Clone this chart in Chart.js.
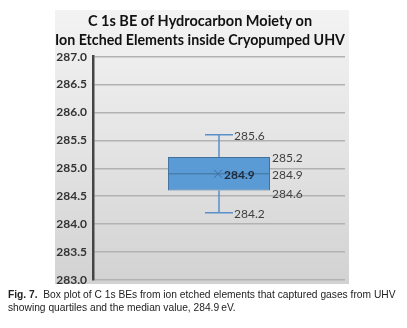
<!DOCTYPE html>
<html>
<head>
<meta charset="utf-8">
<script src="https://cdn.jsdelivr.net/npm/chart.js@4"></script>
<style>
  html, body { margin: 0; padding: 0; background: #fff; }
  body { width: 407px; height: 328px; position: relative; overflow: hidden; }
  #panel {
    position: absolute; left: 55px; top: 10px; width: 294px; height: 274px;
    background: linear-gradient(to bottom, #f3f3f3 0%, #e4e4e4 50%, #d2d2d2 100%);
  }
  #wrap { position: absolute; left: 55px; top: 10px; width: 294px; height: 283px; }
  #caption {
    position: absolute; left: 8px; top: 288px; width: 500px;
    font-family: "Liberation Sans", Arial, sans-serif; font-size: 10.5px; line-height: 13px;
    color: #222; transform-origin: 0 0; transform: scaleX(0.975); white-space: nowrap;
  }
</style>
</head>
<body>
<div id="panel"></div>
<div id="wrap"><canvas id="boxChart"></canvas></div>
<div id="caption"><b>Fig. 7.</b>&nbsp; Box plot of C 1s BEs from ion etched elements that captured gases from UHV<br>showing quartiles and the median value, 284.9&#8201;eV.</div>
<script>
// box plot data (C 1s BE, eV)
const categories = [''];
const minVals = [284.2];
const q1Vals = [284.6];
const medianVals = [284.9];
const q3Vals = [285.2];
const maxVals = [285.6];
const meanVals = [284.9];

const yMin = 283.0;
const yMax = 287.0;
const yStep = 0.5;

const boxBlue = '#5b9bd5';
const boxEdge = '#41719c';

// whiskers, median, mean marker and value labels
const boxExtras = {
    id: 'boxExtras',
    afterDatasetsDraw(chart) {
        const c = chart.ctx;
        const y = chart.scales.y;
        const meta = chart.getDatasetMeta(0);
        meta.data.forEach((bar, i) => {
            const cx = bar.x;
            const half = bar.width / 2;
            const yMaxP = y.getPixelForValue(maxVals[i]);
            const yMinP = y.getPixelForValue(minVals[i]);
            const yQ1 = y.getPixelForValue(q1Vals[i]);
            const yQ3 = y.getPixelForValue(q3Vals[i]);
            const yMed = y.getPixelForValue(medianVals[i]);
            const yMean = y.getPixelForValue(meanVals[i]);
            const cap = 14;

            c.save();
            c.strokeStyle = '#5b8fc8';
            c.lineWidth = 1.5;
            c.beginPath();
            c.moveTo(cx, yQ3); c.lineTo(cx, yMaxP);
            c.moveTo(cx - cap, yMaxP); c.lineTo(cx + cap, yMaxP);
            c.moveTo(cx, yQ1); c.lineTo(cx, yMinP);
            c.moveTo(cx - cap, yMinP); c.lineTo(cx + cap, yMinP);
            c.stroke();

            // median
            c.strokeStyle = boxEdge;
            c.lineWidth = 1;
            c.beginPath();
            c.moveTo(cx - half, yMed); c.lineTo(cx + half, yMed);
            c.stroke();

            // mean marker
            c.strokeStyle = '#3f6f9f';
            c.lineWidth = 1;
            c.beginPath();
            c.moveTo(cx - 5, yMean - 4); c.lineTo(cx + 3, yMean + 4);
            c.moveTo(cx - 5, yMean + 4); c.lineTo(cx + 3, yMean - 4);
            c.stroke();

            c.textBaseline = 'middle';
            c.textAlign = 'left';
            c.font = 'bold 12px Lato';
            c.fillStyle = '#1f2a3a';
            c.fillText(meanVals[i].toFixed(1), cx + 5, yMean + 1);

            c.font = '12px Lato';
            c.fillStyle = '#404040';
            c.fillText(maxVals[i].toFixed(1), cx + cap + 1, yMaxP + 1);
            c.fillText(minVals[i].toFixed(1), cx + cap + 1, yMinP + 1);
            c.fillText(q3Vals[i].toFixed(1), cx + half + 2, yQ3 + 1);
            c.fillText(medianVals[i].toFixed(1), cx + half + 2, yMed + 1);
            c.fillText(q1Vals[i].toFixed(1), cx + half + 2, yQ1 + 4);
            c.restore();
        });
    }
};

const ctx = document.getElementById('boxChart');

new Chart(ctx, {
    type: 'bar',
    data: {
        labels: categories,
        datasets: [{
            label: 'C 1s BE',
            data: q1Vals.map((v, i) => [v, q3Vals[i]]),
            backgroundColor: boxBlue,
            borderColor: boxEdge,
            borderWidth: 1,
            borderSkipped: false,
            barPercentage: 0.405,
            categoryPercentage: 1
        }]
    },
    options: {
        responsive: true,
        maintainAspectRatio: false,
        animation: false,
        layout: { padding: { left: 0, right: 4, top: 0, bottom: 0 } },
        plugins: {
            legend: { display: false },
            tooltip: { enabled: false },
            title: {
                display: true,
                text: ['C 1s BE of Hydrocarbon Moiety on', 'Ion Etched Elements inside Cryopumped UHV'],
                color: '#111',
                font: { family: 'Lato', size: 14.5, weight: 'bold', lineHeight: 1.3 },
                padding: { top: 2, bottom: 7 }
            }
        },
        scales: {
            x: {
                ticks: { display: false },
                grid: { display: false },
                border: { display: false }
            },
            y: {
                min: yMin,
                max: yMax,
                ticks: {
                    stepSize: yStep,
                    padding: 6,
                    color: '#333',
                    font: { family: 'Lato', size: 12, weight: 'bold' },
                    callback: v => v.toFixed(1)
                },
                grid: { color: '#b2b2b2', lineWidth: 1.5, drawTicks: false },
                border: { display: true, color: '#444', width: 2.5 },
                afterFit(scale) { scale.width = 38; }
            }
        }
    },
    plugins: [boxExtras]
});
</script>
</body>
</html>
